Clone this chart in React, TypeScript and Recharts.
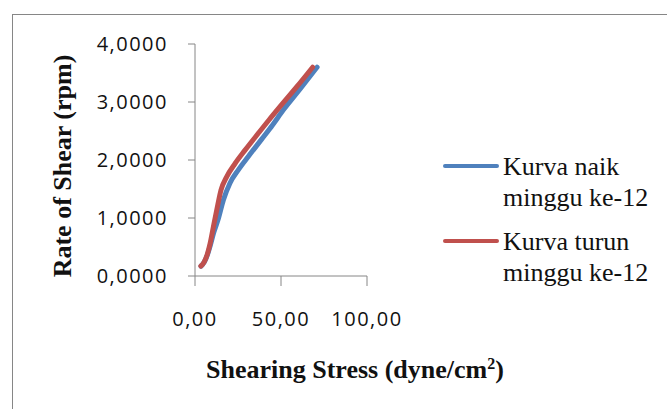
import { LineChart, Line, XAxis, YAxis, Label } from "recharts";

// Shearing stress (dyne/cm2) vs rate of shear
const naikX = [3.5, 5.4, 7.3, 8.9, 10.8, 13.6, 16.5, 20.3, 25.2, 31.0, 38.8, 45.0, 51.3, 61.0, 71.0];
const naikY = [0.17, 0.24, 0.37, 0.53, 0.74, 0.99, 1.31, 1.6, 1.83, 2.06, 2.36, 2.6, 2.86, 3.22, 3.6];
const turunX = [3.4, 5.3, 7.2, 8.7, 10.7, 13.2, 15.1, 18.4, 23.3, 29.1, 36.8, 43.0, 49.4, 59.1, 68.4];
const turunY = [0.17, 0.24, 0.38, 0.55, 0.85, 1.22, 1.48, 1.71, 1.94, 2.17, 2.46, 2.69, 2.92, 3.26, 3.6];

const xTicks = [0, 50, 100];
const yTicks = [0, 1, 2, 3, 4];

const naikLabel = ["Kurva naik", "minggu ke-12"];
const turunLabel = ["Kurva turun", "minggu ke-12"];

const naikData = naikX.map((x, i) => ({ x, y: naikY[i] }));
const turunData = turunX.map((x, i) => ({ x, y: turunY[i] }));

const BLUE = "#4F81BD";
const RED = "#C0504D";
const AXIS = "#868686";

const tickFont = { fontSize: 20, fill: "#111", fontFamily: "'Open Sans', sans-serif", letterSpacing: 1.5 };

const fmt = (v: number, d: number) => v.toFixed(d).replace(".", ",");

function LegendBox() {
  const rows = [
    { color: BLUE, lines: naikLabel },
    { color: RED, lines: turunLabel },
  ];
  return (
    <div style={{ position: "absolute", left: 443, top: 151, fontFamily: "'Liberation Serif', 'Times New Roman', serif", fontSize: 26, lineHeight: "31px", color: "#111" }}>
      {rows.map((r, i) => (
        <div key={i} style={{ display: "flex", alignItems: "flex-start", marginBottom: i === 0 ? 13 : 0 }}>
          <div style={{ width: 56, height: 4, borderRadius: 2, background: r.color, marginTop: 13, marginRight: 4 }} />
          <div>
            {r.lines.map((l) => (
              <div key={l}>{l}</div>
            ))}
          </div>
        </div>
      ))}
    </div>
  );
}

export default function App() {
  return (
    <div style={{ position: "fixed", left: 0, top: 0, width: 667, height: 409, overflow: "hidden", background: "#fff" }}>
      <div style={{ position: "absolute", left: 12, top: 14, width: 700, height: 450, borderLeft: `1px solid ${AXIS}`, borderTop: `1px solid ${AXIS}` }} />
      <div style={{ position: "absolute", left: 0, top: 0 }}>
        <LineChart width={667} height={409} margin={{ top: 44, right: 300, bottom: 0, left: 0 }}>
          <XAxis
            type="number"
            dataKey="x"
            domain={[0, 100]}
            ticks={xTicks}
            tickFormatter={(v) => fmt(v, 2)}
            height={133}
            tick={tickFont}
            tickSize={10}
            tickMargin={26}
            axisLine={{ stroke: AXIS }}
            tickLine={{ stroke: AXIS }}
          >
            <Label
              content={() => (
                <text x={355} y={378} textAnchor="middle" style={{ fontFamily: "'Liberation Serif', serif", fontSize: 26, fontWeight: "bold", fill: "#111" }}>
                  Shearing Stress (dyne/cm<tspan dy={-9} fontSize={16}>2</tspan><tspan dy={9}>)</tspan>
                </text>
              )}
            />
          </XAxis>
          <YAxis
            type="number"
            dataKey="y"
            domain={[0, 4]}
            ticks={yTicks}
            tickFormatter={(v) => fmt(v, 4)}
            width={195}
            tick={tickFont}
            tickSize={7}
            tickMargin={20}
            axisLine={{ stroke: AXIS }}
            tickLine={{ stroke: AXIS }}
          >
            <Label
              content={() => (
                <text x={71} y={166} textAnchor="middle" transform="rotate(-90 71 166)" style={{ fontFamily: "'Liberation Serif', serif", fontSize: 26, fontWeight: "bold", fill: "#111" }}>
                  Rate of Shear (rpm)
                </text>
              )}
            />
          </YAxis>
          <Line data={naikData} dataKey="y" type="monotone" stroke={BLUE} strokeWidth={5} dot={false} strokeLinecap="round" isAnimationActive={false} />
          <Line data={turunData} dataKey="y" type="monotone" stroke={RED} strokeWidth={5} dot={false} strokeLinecap="round" isAnimationActive={false} />
        </LineChart>
      </div>
      <LegendBox />
    </div>
  );
}
